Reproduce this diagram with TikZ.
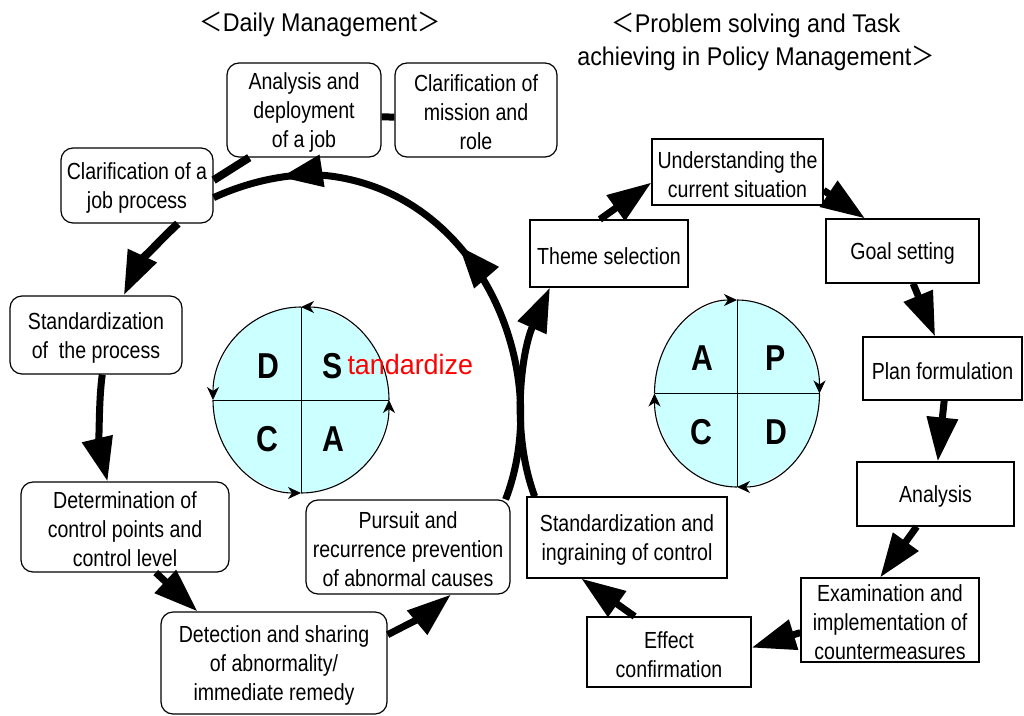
\documentclass[tikz,border=0pt]{standalone}
\usepackage{fontspec}
\setmainfont{Liberation Sans}[FakeStretch=0.84]
\newfontfamily\titlefont{Liberation Sans}[FakeStretch=0.91]
\newfontfamily\redfont{Liberation Sans}[FakeStretch=0.96]
\newfontfamily\cjk{Noto Sans CJK JP}[FakeStretch=0.91]
\usetikzlibrary{arrows.meta,decorations.markings}
\definecolor{pdcafill}{RGB}{204,255,255}
\newcommand\topstrut{\rule{0pt}{22pt}}
\tikzset{
  rbox/.style={draw,line width=1.2pt,rounded corners=12pt,align=center,inner sep=0pt},
  sbox/.style={draw,line width=1.2pt,align=center,inner sep=0pt},
  flow/.style={line width=7pt,-{Triangle[length=44pt,width=30pt]}},
  cyc/.style={line width=1.1pt,-{Stealth[length=13pt,width=12pt,inset=4pt]}},
  midtip/.style={postaction={decorate,decoration={markings,
    mark=at position #1 with {\arrow{Triangle[length=42pt,width=31pt]}}}}}
}
\begin{document}
\begin{tikzpicture}[x=1pt,y=-1pt,line width=1pt,every node/.style={font=\fontsize{23.3pt}{29pt}\selectfont}]
\useasboundingbox (0,0) rectangle (1024,715);
\node[font=\titlefont\fontsize{25.6pt}{33pt}\selectfont] (ttl1) at (320,24) {{\cjk ＜}Daily Management{\cjk ＞}};
\node[align=center,font=\titlefont\fontsize{25.6pt}{33pt}\selectfont] (ttl2) at (756,42) {{\cjk ＜}Problem solving and Task\\achieving in Policy Management{\cjk ＞}};
\node[rbox,minimum width=154pt,minimum height=94pt] (job) at (304,110) {\topstrut Analysis and\\deployment\\of a job};
\node[rbox,minimum width=162pt,minimum height=94pt] (mission) at (476,110) {\topstrut Clarification of\\mission and\\role};
\node[rbox,minimum width=152pt,minimum height=75pt] (jobproc) at (137,185.5) {\topstrut Clarification of a\\job process};
\node[rbox,minimum width=172pt,minimum height=78pt] (stdproc) at (96,335) {\topstrut Standardization\\of~ the process};
\node[rbox,minimum width=208pt,minimum height=90pt] (ctrl) at (125,527) {\topstrut Determination of\\control points and\\control level};
\node[rbox,minimum width=226pt,minimum height=102pt] (detect) at (274,663) {\topstrut Detection and sharing\\of abnormality/\\immediate remedy};
\node[rbox,minimum width=204pt,minimum height=94pt] (pursuit) at (408,547) {\topstrut Pursuit and\\recurrence prevention\\of abnormal causes};
\node[sbox,minimum width=171pt,minimum height=66pt] (situ) at (737.5,172) {\topstrut Understanding the\\current situation};
\node[sbox,minimum width=158pt,minimum height=67pt] (theme) at (609,253.5) {\topstrut Theme selection};
\node[sbox,minimum width=153pt,minimum height=64pt] (goal) at (902.5,251) {\topstrut Goal setting};
\node[sbox,minimum width=159pt,minimum height=63pt] (plan) at (942.5,368.5) {\topstrut Plan formulation};
\node[sbox,minimum width=157pt,minimum height=64pt] (anal) at (935.5,494) {\topstrut Analysis};
\node[sbox,minimum width=178pt,minimum height=84pt] (counter) at (890,620) {\topstrut Examination and\\implementation of\\countermeasures};
\node[sbox,minimum width=164pt,minimum height=70pt] (effect) at (669,652) {\topstrut Effect\\confirmation};
\node[sbox,minimum width=200pt,minimum height=81pt] (ingrain) at (627,537.5) {\topstrut Standardization and\\ingraining of control};
\draw[line width=7pt] (job.-5) -- (mission.185);
\draw[line width=8pt] (job.-139) -- (jobproc.4);
\draw[line width=7pt,midtip=0.5,midtip=0.87] (pursuit.26) .. controls (555,370) and (480,195) .. (330,176) .. controls (290,171) and (245,183) .. (jobproc.-9);
\draw[flow,line width=8pt] (jobproc.-43) .. controls (160,240) and (138,265) .. (stdproc.55);
\draw[flow] (stdproc.-81) .. controls (98,405) and (100,450) .. (ctrl.111);
\draw[flow] (ctrl.-56) -- (detect.146);
\draw[flow] (detect.14) .. controls (405,626) and (430,612) .. (pursuit.-48);
\draw[flow] (ingrain.156) .. controls (510,430) and (522,350) .. (theme.-150);
\draw[flow] (theme.105) -- (situ.187);
\draw[flow] (situ.-12) -- (goal.139);
\draw[flow] (goal.-72) -- (plan.103);
\draw[flow] (plan.-87) -- (anal.86);
\draw[flow] (anal.-120) -- (counter.103);
\draw[flow] (counter.188) -- (effect.3);
\draw[flow] (effect.134) -- (ingrain.-138);
\fill[pdcafill] (301,400) ellipse[x radius=88,y radius=93];
\draw (301,307) -- (301,493);
\draw (213,400) -- (389,400);
\draw[cyc] (389,400) arc[start angle=0,end angle=-90,x radius=88,y radius=93];
\draw[cyc] (301,307) arc[start angle=-90,end angle=-180,x radius=88,y radius=93];
\draw[cyc] (213,400) arc[start angle=180,end angle=90,x radius=88,y radius=93];
\draw[cyc] (301,493) arc[start angle=90,end angle=0,x radius=88,y radius=93];
\fill[pdcafill] (737,393.5) ellipse[x radius=82.5,y radius=93.5];
\draw (737,300) -- (737,487);
\draw (654.5,393.5) -- (819.5,393.5);
\draw[cyc] (654.5,393.5) arc[start angle=180,end angle=270,x radius=82.5,y radius=93.5];
\draw[cyc] (737,300) arc[start angle=270,end angle=360,x radius=82.5,y radius=93.5];
\draw[cyc] (819.5,393.5) arc[start angle=0,end angle=90,x radius=82.5,y radius=93.5];
\draw[cyc] (737,487) arc[start angle=90,end angle=180,x radius=82.5,y radius=93.5];
\begin{scope}[every node/.style={font=\fontsize{36pt}{36pt}\selectfont\bfseries}]
\node (sd) at (268,366) {D};
\node (ss) at (333,366) {S};
\node (sc) at (267.5,439.5) {C};
\node (sa) at (333,439.5) {A};
\node (pa) at (702.5,358) {A};
\node (pp) at (775.5,358) {P};
\node (pc) at (701,432) {C};
\node (pd) at (776,432) {D};
\end{scope}
\node[anchor=base west,inner sep=0pt,text=red] (stdz) at (347,374) {\redfont\fontsize{28pt}{28pt}\selectfont tandardize};
\end{tikzpicture}
\end{document}
